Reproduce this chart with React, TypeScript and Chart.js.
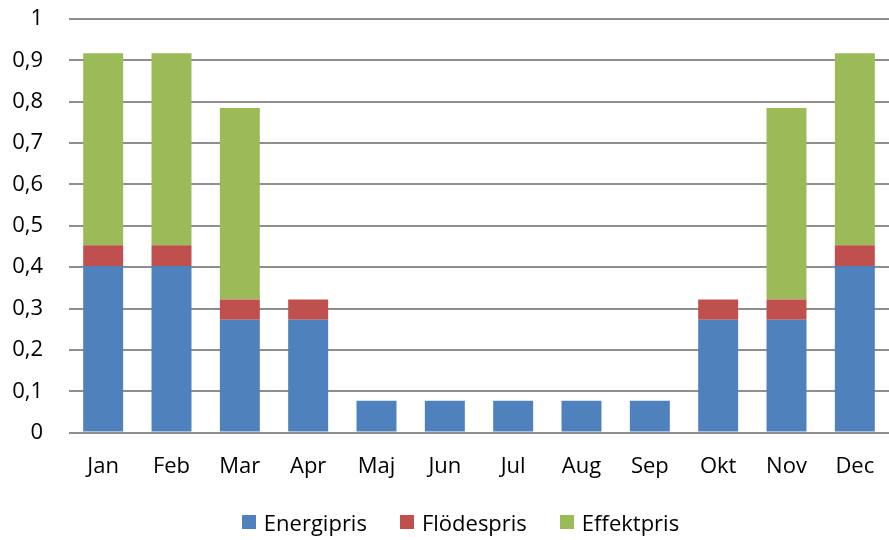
import React, { useEffect, useRef } from "react";
import { Chart, registerables, ChartConfiguration } from "chart.js";

Chart.register(...registerables);

const MONTHS = ["Jan", "Feb", "Mar", "Apr", "Maj", "Jun", "Jul", "Aug", "Sep", "Okt", "Nov", "Dec"];

// kr/kWh per month
const ENERGIPRIS = [0.403, 0.403, 0.273, 0.273, 0.077, 0.077, 0.077, 0.077, 0.077, 0.273, 0.273, 0.403];
const FLODESPRIS = [0.05, 0.05, 0.049, 0.049, 0, 0, 0, 0, 0, 0.049, 0.049, 0.05];
const EFFEKTPRIS = [0.464, 0.464, 0.463, 0, 0, 0, 0, 0, 0, 0, 0.463, 0.464];

const SERIES = [
  { label: "Energipris", data: ENERGIPRIS, color: "#4f81bd" },
  { label: "Flödespris", data: FLODESPRIS, color: "#c0504d" },
  { label: "Effektpris", data: EFFEKTPRIS, color: "#9bbb59" },
];

const FAMILY = "'Open Sans', sans-serif";
const FONT = { family: FAMILY, size: 22 };

const App: React.FC = () => {
  const canvasRef = useRef<HTMLCanvasElement | null>(null);

  useEffect(() => {
    document.body.style.margin = "0";
    if (!canvasRef.current) return;

    const config: ChartConfiguration<"bar"> = {
      type: "bar",
      data: {
        labels: MONTHS,
        datasets: SERIES.map((s) => ({
          label: s.label,
          data: s.data,
          backgroundColor: s.color,
          barPercentage: 0.585,
          categoryPercentage: 1,
          borderWidth: 0,
        })),
      },
      options: {
        animation: false,
        responsive: false,
        layout: { padding: { top: 19, right: -3, bottom: 47, left: 0 } },
        plugins: {
          tooltip: { enabled: false },
          legend: { display: false },
        },
        scales: {
          x: {
            stacked: true,
            grid: { display: false },
            border: { display: false },
            ticks: { font: FONT, color: "#000", padding: 13 },
          },
          y: {
            stacked: true,
            min: 0,
            max: 1,
            afterFit: (scale) => {
              scale.width = 69;
              scale.paddingTop = 0;
            },
            grid: { color: "#8e8e8e", lineWidth: 2, drawTicks: false },
            border: { display: false },
            ticks: {
              stepSize: 0.1,
              font: FONT,
              color: "#000",
              padding: 26,
              callback: (v) => String(Math.round(Number(v) * 10) / 10).replace(".", ","),
            },
          },
        },
      },
    };

    const chart = new Chart(canvasRef.current, config);
    return () => chart.destroy();
  }, []);

  return (
    <div style={{ position: "relative", width: 889, height: 540, background: "#fff" }}>
      <canvas ref={canvasRef} width={889} height={540} />
      {/* legend */}
      <div
        style={{
          position: "absolute",
          left: 32,
          right: 0,
          top: 507,
          height: 30,
          display: "flex",
          justifyContent: "center",
          alignItems: "center",
          gap: 33,
          fontFamily: FAMILY,
          fontSize: 22,
          lineHeight: "30px",
          color: "#000",
        }}
      >
        {SERIES.map((s) => (
          <div key={s.label} style={{ display: "flex", alignItems: "center", gap: 8 }}>
            <span style={{ width: 14, height: 14, background: s.color, display: "inline-block" }} />
            <span>{s.label}</span>
          </div>
        ))}
      </div>
    </div>
  );
};

export default App;
